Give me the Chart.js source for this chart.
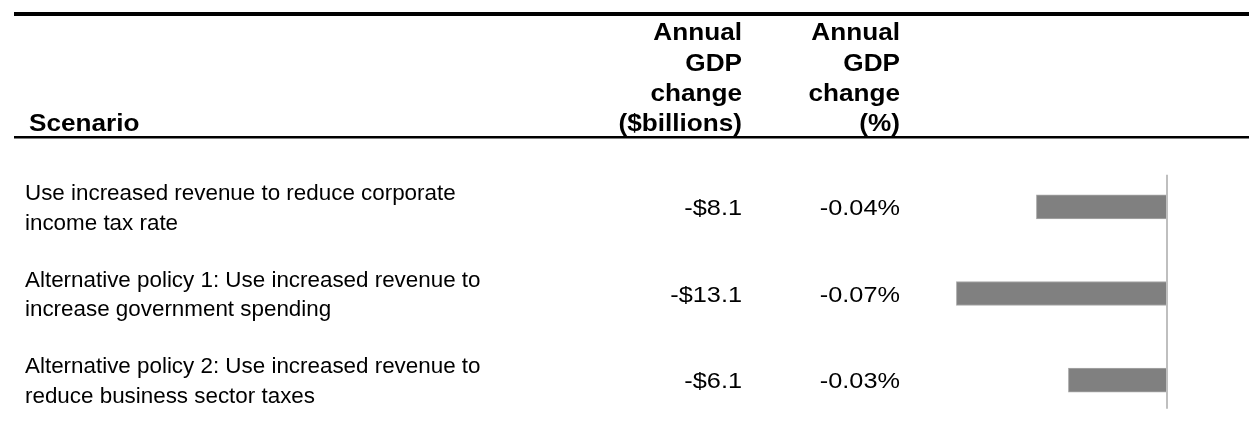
<!DOCTYPE html>
<html>
<head>
<meta charset="utf-8">
<script src="https://cdn.jsdelivr.net/npm/chart.js@4/dist/chart.umd.min.js"></script>
<style>
  html, body { margin: 0; padding: 0; background: #fff; }
  #wrap { width: 1249px; height: 440px; position: relative; }
</style>
</head>
<body>
<div id="wrap"><canvas id="c"></canvas></div>
<script>
// ---- data ----
const scenarios = [
  ["Use increased revenue to reduce corporate", "income tax rate"],
  ["Alternative policy 1: Use increased revenue to", "increase government spending"],
  ["Alternative policy 2: Use increased revenue to", "reduce business sector taxes"]
];
const gdpChangeBillions = [-8.1, -13.1, -6.1];
const gdpChangePercent = [-0.04, -0.07, -0.03];
const headerScenario = "Scenario";
const headerBillions = ["Annual", "GDP", "change", "($billions)"];
const headerPercent = ["Annual", "GDP", "change", "(%)"];

const FONT = '"Liberation Sans", Arial, Helvetica, sans-serif';

function fmtBillions(v) { return (v < 0 ? "-" : "") + "$" + Math.abs(v).toFixed(1); }
function fmtPercent(v) { return v.toFixed(2) + "%"; }

function drawText(ctx, text, x, y, align, sx) {
  ctx.save();
  ctx.translate(x, y);
  ctx.scale(sx, 1);
  ctx.textAlign = align;
  ctx.fillText(text, 0, 0);
  ctx.restore();
}

const tablePlugin = {
  id: 'tablePlugin',
  afterDatasetsDraw(chart) {
    const ctx = chart.ctx;
    const xs = chart.scales.x;
    const ys = chart.scales.y;
    ctx.save();
    // rules
    ctx.fillStyle = '#000';
    ctx.fillRect(14, 12, 1235, 4);
    ctx.fillRect(14, 136, 1235, 2.5);

    // header
    ctx.font = 'bold 24px ' + FONT;
    ctx.textBaseline = 'alphabetic';
    drawText(ctx, headerScenario, 29, 131, 'left', 1.09);
    const hb = [40, 70.5, 101, 131];
    headerBillions.forEach((t, i) => drawText(ctx, t, 742, hb[i], 'right', 1.09));
    headerPercent.forEach((t, i) => drawText(ctx, t, 900, hb[i], 'right', 1.09));

    // rows
    scenarios.forEach((lines, i) => {
      const c = ys.getPixelForValue(i);
      ctx.font = '22.4px ' + FONT;
      drawText(ctx, lines[0], 25, c - 6.7, 'left', 1);
      drawText(ctx, lines[1], 25, c + 22.7, 'left', 1);
      ctx.font = '22.4px ' + FONT;
      drawText(ctx, fmtBillions(gdpChangeBillions[i]), 742, c + 8.3, 'right', 1.13);
      drawText(ctx, fmtPercent(gdpChangePercent[i]), 900, c + 8.3, 'right', 1.13);
    });

    // zero axis line
    const x0 = xs.getPixelForValue(0) + 1;
    const yTop = ys.getPixelForValue(0) - 32;
    const yBot = ys.getPixelForValue(scenarios.length - 1) + 28.5;
    ctx.strokeStyle = '#bfbfbf';
    ctx.lineWidth = 2;
    ctx.beginPath();
    ctx.moveTo(x0, yTop);
    ctx.lineTo(x0, yBot);
    ctx.stroke();
    ctx.restore();
  }
};

new Chart(document.getElementById('c'), {
  type: 'bar',
  data: {
    labels: scenarios.map(s => s.join(' ')),
    datasets: [{
      data: gdpChangeBillions,
      backgroundColor: '#808080',
      borderColor: '#a8a8a8',
      borderWidth: { top: 1, bottom: 1, left: 1, right: 0 },
      borderSkipped: false,
      barThickness: 24
    }]
  },
  options: {
    indexAxis: 'y',
    responsive: true,
    maintainAspectRatio: false,
    animation: false,
    layout: { padding: { left: 942, right: 83, top: 163.5, bottom: 16.5 } },
    plugins: { legend: { display: false }, tooltip: { enabled: false }, title: { display: false } },
    scales: {
      x: { type: 'linear', min: -14, max: 0, display: false },
      y: { type: 'category', display: false, offset: true }
    }
  },
  plugins: [tablePlugin]
});
</script>
</body>
</html>
